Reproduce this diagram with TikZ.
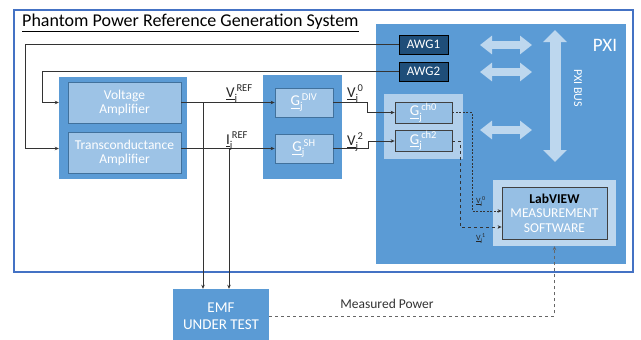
\documentclass[tikz,border=0pt]{standalone}
\usepackage{fontspec}
\setmainfont{Carlito}
\usepackage{amsmath}
\usetikzlibrary{arrows.meta}

\definecolor{medblue}{RGB}{91,155,213}
\definecolor{lightblue}{RGB}{157,195,230}
\definecolor{paleblue}{RGB}{189,215,238}
\definecolor{navy}{RGB}{31,78,121}
\definecolor{frameblue}{RGB}{68,114,196}
\definecolor{edgeblue}{RGB}{65,113,156}

\newcommand{\sgl}[3]{$\underline{\text{#1}}_{\text{#2}}^{\,\text{#3}}$}

\begin{document}
\begin{tikzpicture}[x=1pt, y=-1pt,
    grp/.style={fill=medblue, inner sep=0pt},
    blk/.style={fill=lightblue, draw=edgeblue, line width=0.8pt, text=white, align=center, inner sep=0pt,
        font=\fontsize{13.5}{14}\selectfont},
    chblk/.style={blk, draw=black!75, font=\fontsize{15}{16}\selectfont},
    awg/.style={fill=navy, draw=black, line width=0.8pt, text=white, minimum width=49pt, minimum height=19pt,
        inner sep=0pt, font=\fontsize{13}{14}\selectfont},
    fat/.style={paleblue, line width=8pt, {Triangle[width=18pt,length=12pt]}-{Triangle[width=18pt,length=12pt]}},
    fatv/.style={paleblue, line width=11pt, {Triangle[width=23pt,length=12pt]}-{Triangle[width=23pt,length=12pt]}},
    sig/.style={-{Stealth[length=4pt,width=3.5pt]}, line width=0.7pt, draw=black!80},
    dsig/.style={sig, dashed},
    lbl/.style={anchor=base west, inner sep=0pt, text=black!85, font=\fontsize{15}{16}\selectfont}]
    \useasboundingbox (0,0) rectangle (641,340);
    \draw[frameblue, line width=2pt] (14,10) rectangle (633,272); %外框
    \node[anchor=base west, inner sep=0pt, font=\fontsize{18}{20}\selectfont] (title) at (22,26.5)
        {\underline{Phantom Power Reference Generation System}};
    % PXI 机箱
    \node[grp, minimum width=250pt, minimum height=240pt] (pxi) at (501,144) {};
    \node[text=white, font=\fontsize{19}{20}\selectfont] (pxilbl) at (605,45) {PXI};
    \node[awg] (awg1) at (423.5,44.5) {AWG1};
    \node[awg] (awg2) at (423.5,71.5) {AWG2};
    \draw[fat] (480,45) -- (532,45);
    \draw[fat] (480,72) -- (532,72);
    \draw[fat] (480,130) -- (532,130);
    \draw[fatv] (555,30) -- (555,162); %PXI 总线
    \node[rotate=-90, text=white, font=\fontsize{12}{13}\selectfont] (buslbl) at (578,88) {PXI BUS};
    \node[fill=lightblue!80!white, minimum width=79pt, minimum height=65pt] (chgrp) at (423.5,126.5) {};
    \node[chblk, fill=lightblue!90!medblue, minimum width=57pt, minimum height=21pt] (gch0) at (423.5,112.5) {\sgl{G}{j}{ch0}};
    \node[chblk, fill=lightblue!90!medblue, minimum width=57pt, minimum height=21pt] (gch2) at (423.5,141) {\sgl{G}{j}{ch2}};
    \node[fill=paleblue, minimum width=123pt, minimum height=66pt] (lvgrp) at (554.5,213) {};
    \node[chblk, fill=lightblue!90!medblue, minimum width=105pt, minimum height=52pt, font=\fontsize{13.5}{14.5}\selectfont]
        (lv) at (554.5,213) {\textcolor{black}{\textbf{LabVIEW}}\\MEASUREMENT\\SOFTWARE};
    % 放大器
    \node[grp, minimum width=128pt, minimum height=102pt] (ampgrp) at (123,128) {};
    \node[blk, minimum width=113pt, minimum height=41pt] (vamp) at (124.5,102.5) {Voltage\\Amplifier};
    \node[blk, minimum width=113pt, minimum height=41pt] (tamp) at (124.5,152.5) {Transconductance\\Amplifier};
    % 分压器 / 分流器
    \node[grp, minimum width=79pt, minimum height=104pt] (ggrp) at (302.5,127) {};
    \node[blk, minimum width=58pt, minimum height=29pt, font=\fontsize{15}{16}\selectfont] (gdiv) at (304,102.5) {\sgl{G}{j}{DIV}};
    \node[blk, minimum width=58pt, minimum height=29pt, font=\fontsize{15}{16}\selectfont] (gsh) at (304,148.5) {\sgl{G}{j}{SH}};
    \node[grp, text=white, align=center, minimum width=96pt, minimum height=54pt, font=\fontsize{15}{17}\selectfont]
        (emf) at (221,316) {EMF\\UNDER TEST};
    % 连线
    \draw[sig] (awg1.west) -| (25,148.5) -- (ampgrp.west |- gsh.west);
    \draw[sig] (awg2.west) -| (42,102.5) -- (ampgrp.west |- vamp.east);
    \draw[sig] (vamp.east) -- (gdiv.west);
    \draw[sig] (tamp.east |- gsh.west) -- (gsh.west);
    \coordinate (vj) at (203,102.5);
    \coordinate (ij) at (229,148.5);
    \draw[sig] (vj) -- (vj |- emf.north);
    \draw[sig] (ij) -- (ij |- emf.north);
    \draw[sig] (gdiv.east) -| (367,112.5) -- (gch0.west);
    \draw[sig] (gsh.east) -| (368,141) -- (gch2.west);
    \coordinate (v0) at (472,211);
    \coordinate (v1) at (460,227);
    \draw[dsig, dash pattern=on 2pt off 1.5pt] (gch0.east) -| (v0) -- (v0 -| lv.west);
    \draw[dsig] (gch2.east) -| (v1) -- (v1 -| lv.west);
    \draw[dsig, draw=black!60] (emf.east) -| (lvgrp.south);
    % 标注
    \node[lbl] (vref) at (226,97) {\sgl{V}{j}{REF}};
    \node[lbl] (iref) at (226,144) {\sgl{I}{j}{REF}};
    \node[lbl] (vzero) at (347,97) {\sgl{V}{j}{0}};
    \node[lbl] (vtwo) at (347,145) {\sgl{V}{j}{2}};
    \node[lbl, font=\fontsize{8}{9}\selectfont] (lv0) at (476,203) {\sgl{V}{j}{0}};
    \node[lbl, font=\fontsize{8}{9}\selectfont] (lv1) at (476,240) {\sgl{V}{j}{1}};
    \node[text=black!80, font=\fontsize{13.5}{14}\selectfont] (mp) at (387,304) {Measured Power};
\end{tikzpicture}
\end{document}
